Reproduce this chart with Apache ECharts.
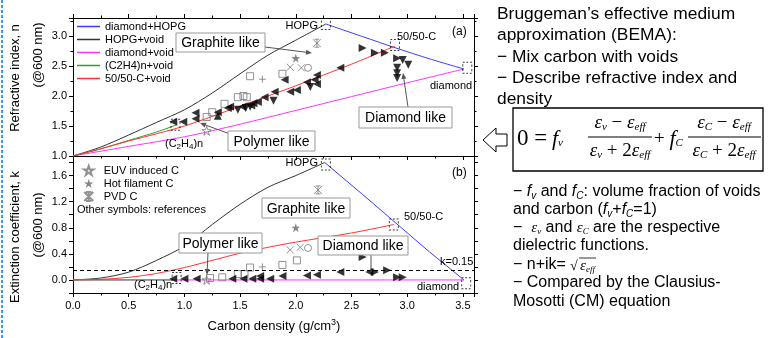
<!DOCTYPE html>
<html>
<head>
<meta charset="utf-8">
<script src="https://cdn.jsdelivr.net/npm/echarts@6/dist/echarts.min.js"></script>
<style>
html, body { margin: 0; padding: 0; background: #fff; }
#chart { width: 771px; height: 338px; }
</style>
</head>
<body>
<div id="chart"></div>
<script>
// ---- (a) refractive index n, model curves [density, n]
var nDiamondHopg = [[2.27, 3.2], [2.6, 2.99], [2.9, 2.8], [3.2, 2.62], [3.51, 2.45]];
var nHopgVoid = [[0, 1], [0.25, 1.15], [0.5, 1.35], [0.75, 1.56], [1.0, 1.77], [1.25, 2.05], [1.5, 2.37], [1.75, 2.68], [2.0, 2.93], [2.27, 3.2]];
var nDiamondVoid = [[0, 1], [0.5, 1.16], [1.0, 1.32], [1.5, 1.53], [2.0, 1.76], [2.5, 1.99], [3.0, 2.22], [3.51, 2.45]];
var nC2h4Void = [[0, 1], [0.25, 1.12], [0.5, 1.26], [0.75, 1.4], [0.93, 1.52]];
var nFiftyVoid = [[0, 1], [0.25, 1.12], [0.5, 1.25], [0.75, 1.37], [1.0, 1.5], [1.25, 1.66], [1.5, 1.83], [1.75, 2.0], [2.0, 2.17], [2.25, 2.35], [2.5, 2.53], [2.89, 2.83]];

// ---- (a) measured / reference points
var nLeftTri = [[0.9, 1.57], [0.99, 1.57], [1.1, 1.72], [1.1, 1.62], [1.3, 1.73], [1.39, 1.8], [1.41, 1.82], [1.52, 1.82], [1.6, 1.84], [1.62, 1.88], [1.66, 1.9], [1.72, 1.98], [1.81, 2.07], [1.9, 2.27], [1.95, 2.07], [2.01, 2.1], [2.1, 2.23], [2.17, 2.27], [2.19, 2.35], [2.19, 2.2], [2.4, 2.47]];
var nRightTri = [[2.6, 2.8], [2.71, 2.72], [2.8, 2.72], [2.91, 2.63]];
var nDownTri = [[1.48, 1.77], [1.55, 1.8], [1.59, 1.82], [1.8, 1.92], [2.13, 2.15], [2.96, 2.6], [3.01, 2.52], [2.91, 2.47], [2.91, 2.38], [2.91, 2.3]];
var nUpTri = [[1.3, 1.67]];
var nSquare = [[1.2, 1.65], [1.25, 1.73], [1.36, 1.87], [1.48, 1.98], [1.53, 2.0], [1.56, 1.98], [1.59, 2.33], [1.88, 2.37]];
var nCross = [[1.95, 2.48], [2.05, 2.47]];
var nCircle = [[2.11, 2.47]];
var nPlus = [[1.7, 2.28]];
var nEuv = [[1.2, 1.42]];
var nHotFil = [[2.0, 2.63]];
var nPvd = [[2.19, 2.88]];
var nRefMat = [[2.27, 3.2], [2.89, 2.85], [3.54, 2.47], [0.92, 1.52]];

// ---- (b) extinction coefficient k, model curves
var kDiamondHopg = [[2.26, 1.8], [2.6, 1.31], [2.9, 0.87], [3.2, 0.43], [3.51, 0]];
var kHopgVoid = [[0, 0], [0.25, 0.03], [0.5, 0.12], [0.75, 0.3], [1.0, 0.52], [1.25, 0.85], [1.5, 1.16], [1.75, 1.42], [2.0, 1.6], [2.26, 1.8]];
var kDiamondVoid = [[0, 0], [3.51, 0]];
var kC2h4Void = [[0, 0], [0.9, 0]];
var kFiftyVoid = [[0, 0], [0.25, 0.01], [0.5, 0.04], [0.75, 0.1], [1.0, 0.19], [1.25, 0.3], [1.5, 0.41], [1.75, 0.5], [2.0, 0.58], [2.5, 0.72], [2.88, 0.85]];
var kLimit = 0.15;

// ---- (b) points
var kLeftTri = [[0.9, 0.02], [1.0, 0.02], [1.11, 0.02], [1.43, 0.02], [1.53, 0.02], [1.61, 0.02], [1.68, 0.02], [1.68, 0.06], [1.77, 0.02], [1.88, 0.06], [2.1, 0.07], [2.19, 0.08], [2.4, 0.12], [2.66, 0.12]];
var kRightTri = [[2.6, 0.35], [2.71, 0.12], [2.82, 0.15], [2.91, 0.04], [2.96, 0.04]];
var kSquare = [[1.23, 0.03], [1.34, 0.04], [1.48, 0.09], [1.54, 0.09], [1.59, 0.19], [1.88, 0.23], [2.01, 0.3]];
var kCross = [[1.95, 0.46], [2.04, 0.5]];
var kCircle = [[2.11, 0.49]];
var kPlus = [[1.7, 0.2]];
var kEuv = [[1.2, 0.0]];
var kHotFil = [[2.0, 0.8]];
var kPvd = [[2.2, 1.38]];
var kRefMat = [[2.27, 1.77], [2.88, 0.85], [3.53, -0.05], [0.93, 0.03]];

var lineNames = ['diamond+HOPG', 'HOPG+void', 'diamond+void', '(C2H4)n+void', '50/50-C+void'];
var symNames = ['EUV induced C', 'Hot filament C', 'PVD C'];

var FONT = '"Liberation Sans", Arial, sans-serif';
var SERIF = '"Liberation Serif", "Times New Roman", serif';

var STAR = 'path://M5,0L6.2,3.6L10,3.6L6.9,5.8L8.1,9.5L5,7.2L1.9,9.5L3.1,5.8L0,3.6L3.8,3.6Z';
var CROSS = 'path://M0,0L10,10M10,0L0,10';
var PLUS = 'path://M5,0L5,10M0,5L10,5';
var PVD = 'path://M0,0L10,10M10,0L0,10M5,0L5,10M2,0L8,0M2,10L8,10';

function isStep(v, step) {
    var r = Math.round(v * 100) / 100;
    return Math.abs(r / step - Math.round(r / step)) < 1e-6;
}

function xAx(grid, pos, labels) {
    return {
        type: 'value', gridIndex: grid, position: pos, min: 0, max: 3.6, interval: 0.5,
        axisLine: { onZero: false, lineStyle: { color: '#000', width: 1 } },
        axisTick: { show: true, inside: false, length: 4, lineStyle: { color: '#000' } },
        minorTick: { show: true, splitNumber: 2, length: 2.5, lineStyle: { color: '#000' } },
        splitLine: { show: false },
        axisLabel: {
            show: labels, margin: 7, fontSize: 11, fontFamily: FONT, color: '#000',
            formatter: function (v) { return isStep(v, 0.5) ? (Math.round(v * 10) / 10).toFixed(1) : ''; }
        }
    };
}

function yAx(grid, pos, labels, min, max, interval, labelStep, minor) {
    return {
        type: 'value', gridIndex: grid, position: pos, min: min, max: max, interval: interval,
        axisLine: { onZero: false, lineStyle: { color: '#000', width: 1 } },
        axisTick: { show: true, inside: false, length: 4, lineStyle: { color: '#000' } },
        minorTick: { show: minor, splitNumber: 2, length: 2.5, lineStyle: { color: '#000' } },
        splitLine: { show: false },
        axisLabel: {
            show: labels, margin: 6, fontSize: 11, fontFamily: FONT, color: '#000',
            formatter: function (v) { return (v > -0.05 && isStep(v, labelStep)) ? (Math.round(v * 10) / 10).toFixed(1) : ''; }
        }
    };
}

function curve(name, data, color, g, smooth) {
    return {
        type: 'line', name: name, data: data, xAxisIndex: g * 2, yAxisIndex: g * 2,
        symbol: 'none', smooth: smooth, lineStyle: { color: color, width: 1 }, itemStyle: { color: color },
        z: 2, silent: true
    };
}

function pts(name, data, g, symbol, size, style, rotate) {
    return {
        type: 'scatter', name: name, data: data, xAxisIndex: g * 2, yAxisIndex: g * 2,
        symbol: symbol, symbolSize: size, symbolRotate: rotate || 0, itemStyle: style, z: 4, silent: true
    };
}

var black = { color: '#000' };
var grayOpen = { color: 'rgba(255,255,255,0)', borderColor: '#777', borderWidth: 1 };
var grayStroke = { color: 'rgba(0,0,0,0)', borderColor: '#777', borderWidth: 1 };
var bracket = { color: 'rgba(0,0,0,0)', borderColor: '#000', borderWidth: 1, borderType: [2, 2] };

var series = [
    curve('diamond+HOPG', nDiamondHopg, '#3c3cff', 0, 0.3),
    curve('HOPG+void', nHopgVoid, '#333333', 0, 0.3),
    curve('diamond+void', nDiamondVoid, '#ff33ff', 0, 0.3),
    curve('(C2H4)n+void', nC2h4Void, '#2e9e2e', 0, 0.3),
    curve('50/50-C+void', nFiftyVoid, '#ff3333', 0, 0.3),
    curve('diamond+HOPG', kDiamondHopg, '#3c3cff', 1, 0),
    curve('HOPG+void', kHopgVoid, '#333333', 1, 0.3),
    curve('diamond+void', kDiamondVoid, '#ff33ff', 1, 0),
    curve('(C2H4)n+void', kC2h4Void, '#2e9e2e', 1, 0),
    curve('50/50-C+void', kFiftyVoid, '#ff3333', 1, 0.3),
    {
        type: 'line', name: 'k limit', data: [], xAxisIndex: 2, yAxisIndex: 2, silent: true,
        markLine: { silent: true, symbol: 'none', label: { show: false },
            lineStyle: { color: '#000', type: [4, 3], width: 1 }, data: [{ yAxis: kLimit }] }
    },
    pts('nSquare', nSquare, 0, 'rect', 7, grayOpen),
    pts('nCross', nCross, 0, CROSS, 7, grayStroke),
    pts('nCircle', nCircle, 0, 'circle', 7, grayOpen),
    pts('nPlus', nPlus, 0, PLUS, 7, grayStroke),
    pts('nLeft', nLeftTri, 0, 'triangle', 8, black, 90),
    pts('nRight', nRightTri, 0, 'triangle', 8, black, -90),
    pts('nDown', nDownTri, 0, 'triangle', 8, black, 180),
    pts('nUp', nUpTri, 0, 'triangle', 8, black, 0),
    pts('EUV induced C', nEuv, 0, STAR, 9, grayOpen),
    pts('Hot filament C', nHotFil, 0, STAR, 9, { color: '#666' }),
    pts('PVD C', nPvd, 0, PVD, 8, grayStroke),
    pts('nRef', nRefMat, 0, 'rect', [9, 11], bracket),
    pts('kSquare', kSquare, 1, 'rect', 7, grayOpen),
    pts('kCross', kCross, 1, CROSS, 7, grayStroke),
    pts('kCircle', kCircle, 1, 'circle', 7, grayOpen),
    pts('kPlus', kPlus, 1, PLUS, 7, grayStroke),
    pts('kLeft', kLeftTri, 1, 'triangle', 8, black, 90),
    pts('kRight', kRightTri, 1, 'triangle', 8, black, -90),
    pts('EUV induced C', kEuv, 1, STAR, 9, grayOpen),
    pts('Hot filament C', kHotFil, 1, STAR, 9, { color: '#666' }),
    pts('PVD C', kPvd, 1, PVD, 8, grayStroke),
    pts('kRef', kRefMat, 1, 'rect', [9, 11], bracket)
];

// ---- annotation helpers (pixel space)
function arrow(x1, y1, x2, y2) {
    var a = Math.atan2(y2 - y1, x2 - x1), L = 6, W = 2.5;
    var bx = x2 - L * Math.cos(a), by = y2 - L * Math.sin(a);
    var px = -Math.sin(a) * W, py = Math.cos(a) * W;
    return [
        { type: 'line', z: 50, shape: { x1: x1, y1: y1, x2: bx, y2: by }, style: { stroke: '#555', lineWidth: 1 } },
        { type: 'polygon', z: 50, shape: { points: [[x2, y2], [bx + px, by + py], [bx - px, by - py]] }, style: { fill: '#555' } }
    ];
}
function box(text, x, y, w, h) {
    return [
        { type: 'rect', z: 60, shape: { x: x, y: y, width: w, height: h }, style: { fill: '#fff', stroke: '#999', lineWidth: 1 } },
        { type: 'text', z: 61, x: x + w / 2, y: y + h / 2 + 1, style: { text: text, font: '14px ' + FONT, fill: '#000', align: 'center', verticalAlign: 'middle' } }
    ];
}
function txt(text, x, y, size, align, rich, family) {
    return { type: 'text', z: 70, x: x, y: y, style: { text: text, font: size + 'px ' + (family || FONT), fill: '#000', align: align || 'left', verticalAlign: 'middle', rich: rich } };
}
function vtxt(text, x, y) {
    return { type: 'text', z: 70, x: x, y: y, rotation: Math.PI / 2, style: { text: text, font: '13px ' + FONT, fill: '#000', align: 'center', verticalAlign: 'middle' } };
}

var subRich = { s: { fontSize: 8, fontFamily: FONT, verticalAlign: 'bottom', padding: [6, 0, 0, 0] } };
var supRich = { p: { fontSize: 9, fontFamily: FONT, padding: [0, 0, 6, 0] } };
var eqRich = {
    e: { fontSize: 19, fontFamily: SERIF, fontStyle: 'italic' },
    f: { fontSize: 22, fontFamily: SERIF, fontStyle: 'italic' },
    s: { fontSize: 11, fontFamily: SERIF, fontStyle: 'italic', padding: [9, 0, 0, 0] },
    n: { fontSize: 19, fontFamily: SERIF },
    z: { fontSize: 23, fontFamily: SERIF }
};
var bodyRich = {
    i: { fontSize: 16, fontFamily: FONT, fontStyle: 'italic' },
    e: { fontSize: 15, fontFamily: SERIF, fontStyle: 'italic' },
    s: { fontSize: 10, fontFamily: FONT, fontStyle: 'italic', padding: [8, 0, 0, 0] },
    t: { fontSize: 9, fontFamily: SERIF, fontStyle: 'italic', padding: [8, 0, 0, 0] }
};

var graphics = [
    { type: 'line', z: 80, shape: { x1: 2, y1: 0, x2: 2, y2: 338 }, style: { stroke: '#3399ff', lineWidth: 2, lineDash: [3, 2] } },
    vtxt('Refractive index, n', 15, 78),
    vtxt('(@600 nm)', 38, 55),
    vtxt('Extinction coefficient, k', 15, 237),
    vtxt('(@600 nm)', 38, 225),
    txt('Carbon density (g/cm{p|3})', 274, 326, 13, 'center', supRich),
    txt('Other symbols: references', 77, 210, 11),
    // panel (a) labels
    txt('HOPG', 318, 26, 11, 'right'),
    txt('50/50-C', 397, 37, 11),
    txt('diamond', 430, 86, 11),
    txt('(a)', 452, 32, 12),
    txt('(C{s|2}H{s|4})n', 165, 144, 11, 'left', subRich),
    // panel (b) labels
    txt('HOPG', 318, 163, 11, 'right'),
    txt('50/50-C', 404, 217, 11),
    txt('(b)', 452, 173, 12),
    txt('k=0.15', 440, 262, 11),
    txt('diamond', 417, 287, 11),
    txt('(C{s|2}H{s|4})n', 134, 285, 11, 'left', subRich),
    // right-hand text
    txt('Bruggeman\u2019s effective medium', 497, 14, 17.4),
    txt('approximation (BEMA):', 497, 35, 17.4),
    txt('\u2212 Mix carbon with voids', 497, 57, 17.4),
    txt('\u2212 Describe refractive index and', 497, 78, 17.4),
    txt('density', 497, 99, 17.4),
    { type: 'rect', z: 70, shape: { x: 513, y: 108, width: 250, height: 63 }, style: { fill: 'none', stroke: '#000', lineWidth: 1.3 } },
    { type: 'polygon', z: 70, shape: { points: [[483, 140], [496, 128], [496, 134], [507, 134], [507, 146], [496, 146], [496, 152]] }, style: { fill: '#fff', stroke: '#000', lineWidth: 1 } },
    txt('{z|0 =} {f|f}{s|v}', 517, 139, 19, 'left', eqRich, SERIF),
    txt('{e|\u03b5}{s|v}{n| \u2212 }{e|\u03b5}{s|eff}', 620, 123, 19, 'center', eqRich, SERIF),
    txt('{e|\u03b5}{s|v}{n| + 2}{e|\u03b5}{s|eff}', 620, 151, 19, 'center', eqRich, SERIF),
    { type: 'line', z: 70, shape: { x1: 588, y1: 137, x2: 652, y2: 137 }, style: { stroke: '#000', lineWidth: 1 } },
    txt('{n|+} {f|f}{s|C}', 654, 139, 19, 'left', eqRich, SERIF),
    txt('{e|\u03b5}{s|C}{n| \u2212 }{e|\u03b5}{s|eff}', 724, 123, 19, 'center', eqRich, SERIF),
    txt('{e|\u03b5}{s|C}{n| + 2}{e|\u03b5}{s|eff}', 724, 151, 19, 'center', eqRich, SERIF),
    { type: 'line', z: 70, shape: { x1: 688, y1: 137, x2: 761, y2: 137 }, style: { stroke: '#000', lineWidth: 1 } },
    txt('\u2212 {i|f}{s|v} and {i|f}{s|C}: volume fraction of voids', 513, 192, 16, 'left', bodyRich),
    txt('and carbon ({i|f}{s|v}+{i|f}{s|C}=1)', 513, 210, 16, 'left', bodyRich),
    txt('\u2212  {e|\u03b5}{t|v} and {e|\u03b5}{t|C} are the respective', 513, 228, 16, 'left', bodyRich),
    txt('dielectric functions.', 513, 246, 16),
    txt('\u2212 n+ik=', 513, 265, 16),
    txt('\u221a', 570, 266, 14, 'left', null, SERIF),
    txt('{e|\u03b5}{t|eff}', 580, 266, 15, 'left', bodyRich, SERIF),
    { type: 'line', z: 70, shape: { x1: 579, y1: 258, x2: 596, y2: 258 }, style: { stroke: '#000', lineWidth: 0.8 } },
    txt('\u2212 Compared by the Clausius-', 513, 283, 16),
    txt('Mosotti (CM) equation', 513, 302, 16)
];
graphics = graphics
    .concat(box('Graphite like', 176, 33, 89, 19)).concat(arrow(265, 47, 312, 53))
    .concat(box('Polymer like', 228, 131, 87, 20)).concat(arrow(230, 134, 200, 123))
    .concat(box('Diamond like', 359, 107, 93, 21)).concat(arrow(408, 107, 403, 73))
    .concat(box('Polymer like', 179, 233, 83, 20)).concat(arrow(208, 253, 207, 275))
    .concat(box('Graphite like', 262, 198, 88, 20))
    .concat(box('Diamond like', 318, 236, 90, 19))
    .concat([{ type: 'line', z: 50, shape: { x1: 371, y1: 255, x2: 371, y2: 272 }, style: { stroke: '#555', lineWidth: 1 } }]);

var chart = echarts.init(document.getElementById('chart'));
var option = {
    animation: false,
    backgroundColor: '#fff',
    grid: [
        { left: 73, top: 18, width: 401, height: 138 },
        { left: 73, top: 156, width: 401, height: 137 }
    ],
    xAxis: [
        xAx(0, 'bottom', false),
        xAx(0, 'top', false),
        xAx(1, 'bottom', true),
        Object.assign(xAx(1, 'top', false), { axisTick: { show: false }, minorTick: { show: false } })
    ],
    yAxis: [
        yAx(0, 'left', true, 1, 3.3, 0.5, 0.5, true),
        yAx(0, 'right', false, 1, 3.3, 0.5, 0.5, true),
        yAx(1, 'left', true, -0.2, 1.9, 0.2, 0.4, false),
        yAx(1, 'right', false, -0.2, 1.9, 0.2, 0.4, false)
    ],
    legend: [
        {
            data: lineNames, orient: 'vertical', left: 72, top: 15, icon: 'rect', itemWidth: 23, itemHeight: 1.5, itemGap: 0,
            selectedMode: false, textStyle: { fontSize: 11, lineHeight: 13, fontFamily: FONT, color: '#000' }
        },
        {
            data: symNames, orient: 'vertical', left: 78, top: 159, itemWidth: 10, itemHeight: 9, itemGap: 0,
            selectedMode: false, textStyle: { fontSize: 11, lineHeight: 13, fontFamily: FONT, color: '#000', padding: [0, 0, 0, 5] }
        }
    ],
    series: series,
    graphic: { elements: graphics }
};
chart.setOption(option);
</script>
</body>
</html>
